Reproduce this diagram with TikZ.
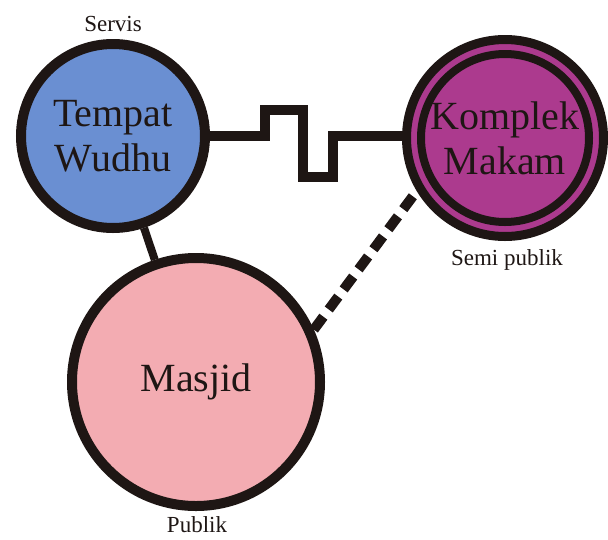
\documentclass[tikz,border=0pt]{standalone}
\usepackage{fontspec}
\setmainfont{Liberation Serif}
\definecolor{ink}{RGB}{30,22,20}
\definecolor{wudhu}{RGB}{106,143,210}
\definecolor{masjid}{RGB}{243,172,178}
\definecolor{makam}{RGB}{172,58,142}
\tikzset{
  zone/.style={circle, draw=ink, line width=10pt, inner sep=0pt, align=center,
    text=ink, font=\fontsize{40}{45}\selectfont},
  tag/.style={text=ink, font=\fontsize{23}{26}\selectfont, inner sep=0pt, anchor=base},
  link/.style={draw=ink, line width=8pt},
  wall/.style={draw=ink, line width=10pt, line join=miter},
  loose/.style={draw=ink, line width=10pt, dash pattern=on 16pt off 9pt},
}
\begin{document}
\begin{tikzpicture}[x=1pt, y=-1pt]
\useasboundingbox (0,0) rectangle (608,539);

% spaces
\node[zone, fill=wudhu, minimum size=184pt] (tw) at (113,136) {Tempat\\Wudhu};
\node[zone, fill=masjid, minimum size=248pt] (mj) at (196,382) {Masjid};
\node[zone, fill=makam, line width=9pt, minimum size=197pt] (km) at (505,138) {Komplek\\Makam};
\draw[ink, line width=8pt] (km.center) circle (84);

% zone labels
\node[tag] (lservis) at (113,31) {Servis};
\node[tag] (lsemi) at (507,265) {Semi publik};
\node[tag] (lpublik) at (197,532) {Publik};

% relations
\coordinate (step) at (333,136);
\draw[link] (tw) -- (mj);
\draw[wall] (tw.east) -| (265,110) -| (303,177) -| (step) -- (km.west |- step);
\draw[loose] (mj.24) -- (km.211);
\end{tikzpicture}
\end{document}
